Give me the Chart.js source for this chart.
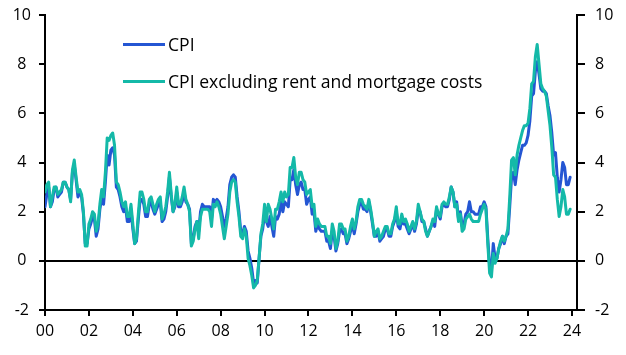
<!DOCTYPE html>
<html><head><meta charset="utf-8">
<script src="https://cdn.jsdelivr.net/npm/chart.js@4.4.1/dist/chart.umd.min.js"></script>
<style>
html,body{margin:0;padding:0;background:#fff;}
#wrap{position:relative;width:626px;height:355px;overflow:hidden;}
canvas{display:block;}
.leg{position:absolute;left:123px;height:20px;display:flex;align-items:center;font-family:'Open Sans',sans-serif;font-size:17.6px;color:#000;white-space:nowrap;}
.leg i{display:inline-block;width:42px;height:3px;margin-right:3px;}
</style></head><body>
<div id="wrap"><canvas id="c" width="626" height="355"></canvas>
<div class="leg" id="l1" style="top:34px"><i></i><span></span></div>
<div class="leg" id="l2" style="top:71px"><i></i><span></span></div>
</div>
<script>
const startYear = 2000;
const seriesNames = ['CPI', 'CPI excluding rent and mortgage costs'];
const xTickValues = [0,2,4,6,8,10,12,14,16,18,20,22,24];
const xTickLabels = ['00','02','04','06','08','10','12','14','16','18','20','22','24'];
const yTicks = [-2,0,2,4,6,8,10];

// Monthly y/y %, Jan 2000 - Dec 2023
const cpi = [
2.2,2.7,3.0,2.2,2.4,2.9,3.0,2.6,2.7,2.8,3.2,3.2,
3.0,2.9,2.5,3.6,3.9,3.3,2.6,2.8,2.6,1.9,0.7,0.7,
1.3,1.5,1.8,1.7,1.0,1.3,2.1,2.6,2.3,3.2,4.3,3.9,
4.5,4.6,4.3,3.0,2.9,2.6,2.2,2.0,2.2,1.6,1.6,2.1,
1.3,0.7,0.8,1.7,2.5,2.5,2.3,1.8,1.8,2.3,2.4,2.1,
1.9,2.1,2.3,2.4,1.6,1.7,2.0,2.6,3.4,2.6,2.0,2.2,
2.8,2.2,2.2,2.4,2.8,2.4,2.3,2.1,0.7,0.9,1.4,1.6,
1.2,2.0,2.3,2.2,2.2,2.2,2.2,1.7,2.5,2.4,2.5,2.4,
2.2,1.8,1.4,1.7,2.2,3.1,3.4,3.5,3.4,2.6,2.0,1.2,
1.1,1.4,1.2,0.4,0.1,-0.3,-0.9,-0.8,-0.9,0.1,1.0,1.3,
1.9,1.6,1.4,1.8,1.4,1.0,1.8,1.7,1.9,2.4,2.0,2.4,
2.3,2.2,3.3,3.3,3.7,3.1,2.7,3.1,3.2,2.9,2.9,2.3,
2.5,2.6,1.9,2.0,1.2,1.5,1.3,1.2,1.2,1.2,0.8,0.8,
0.5,1.2,1.0,0.4,0.7,1.2,1.3,1.1,1.1,0.7,0.9,1.2,
1.5,1.1,1.5,2.0,2.3,2.4,2.1,2.1,2.0,2.4,2.0,1.5,
1.0,1.0,1.2,0.8,0.9,1.0,1.3,1.3,1.0,1.0,1.4,1.6,
2.0,1.4,1.3,1.7,1.5,1.5,1.3,1.1,1.3,1.5,1.2,1.5,
2.1,2.0,1.6,1.6,1.3,1.0,1.2,1.4,1.6,1.4,2.1,1.9,
1.7,2.2,2.3,2.2,2.2,2.5,3.0,2.8,2.2,2.4,1.7,2.0,
1.4,1.5,1.9,2.0,2.4,2.0,2.0,1.9,1.9,1.9,2.2,2.2,
2.4,2.2,0.9,-0.2,-0.4,0.7,0.1,0.1,0.5,0.7,1.0,0.7,
1.0,1.1,2.2,3.4,3.6,3.1,3.7,4.1,4.4,4.7,4.7,4.8,
5.1,5.7,6.7,6.8,7.7,8.1,7.6,7.0,6.9,6.9,6.8,6.3,
5.9,5.2,4.3,4.4,3.4,2.8,3.3,4.0,3.8,3.1,3.1,3.4
];
const cpiExRent = [
2.8,3.1,3.2,2.2,2.6,3.0,3.0,2.7,2.8,2.9,3.2,3.2,
3.0,2.9,2.4,3.7,4.1,3.4,2.8,2.9,2.7,2.0,0.6,0.6,
1.5,1.7,2.0,1.9,1.2,1.5,2.3,2.9,2.6,3.6,5.0,4.9,
5.1,5.2,4.7,3.2,3.1,2.8,2.4,2.2,2.4,1.8,1.8,2.3,
1.5,0.7,0.9,1.9,2.8,2.8,2.5,2.0,2.0,2.5,2.6,2.3,
2.0,2.3,2.5,2.6,1.7,1.9,2.2,2.8,3.6,2.7,2.0,2.3,
3.0,2.3,2.3,2.6,3.0,2.5,2.3,2.0,0.6,0.8,1.3,1.6,
0.9,1.8,2.1,2.1,2.1,2.1,2.0,1.4,2.3,2.2,2.4,2.2,
1.9,1.4,0.9,1.4,1.9,2.8,3.2,3.3,3.2,2.4,1.8,1.0,
0.9,1.3,1.0,0.1,-0.2,-0.6,-1.1,-1.0,-0.8,0.1,1.1,1.5,
2.3,1.6,2.3,2.1,1.7,1.3,2.1,2.1,2.4,2.8,2.4,2.8,
2.6,2.7,3.8,3.8,4.2,3.4,3.1,3.6,3.6,3.3,3.2,2.7,
2.8,2.9,2.2,2.3,1.4,1.7,1.5,1.4,1.4,1.4,1.0,1.0,
0.7,1.5,1.2,0.5,0.8,1.5,1.5,1.3,1.3,0.8,1.0,1.4,
1.7,1.3,1.6,2.2,2.5,2.5,2.3,2.2,2.1,2.5,2.1,1.6,
1.0,1.2,1.3,0.9,1.0,1.2,1.4,1.4,1.1,1.1,1.5,1.7,
2.2,1.5,1.5,1.9,1.6,1.7,1.5,1.2,1.4,1.6,1.3,1.6,
2.3,2.0,1.7,1.6,1.2,1.0,1.2,1.4,1.7,1.6,2.2,1.9,
1.8,2.3,2.4,2.3,2.3,2.6,3.0,2.8,2.2,2.3,1.6,1.9,
1.2,1.3,1.7,1.8,1.9,1.7,1.6,1.6,1.6,1.6,1.9,2.1,
2.3,2.1,0.7,-0.5,-0.65,0.3,-0.1,0.1,0.5,0.8,1.0,0.8,
1.0,1.3,2.6,4.1,4.2,3.5,4.3,4.7,5.0,5.3,5.5,5.5,
5.6,6.2,7.2,7.3,8.3,8.8,8.0,7.2,7.0,6.9,6.7,6.1,
5.5,4.6,3.5,3.4,2.5,1.8,2.2,2.9,2.6,1.9,1.9,2.1
];

const colors = ['#2456d3', '#14b9a8'];
const FONT = "'Open Sans', sans-serif";

const toPts = arr => arr.map((v, i) => ({x: i / 12, y: v}));

// legend (HTML text)
[['l1',0],['l2',1]].forEach(([id, k]) => {
  const el = document.getElementById(id);
  el.querySelector('i').style.background = colors[k];
  el.querySelector('span').textContent = seriesNames[k];
});

const yAxisCommon = {
  type: 'linear', min: -2, max: 10,
  afterBuildTicks: s => { s.ticks = yTicks.map(v => ({value: v})); },
  border: {display: true, color: '#000', width: 2},
  ticks: {color: '#000', font: {family: FONT, size: 16}, padding: 8, crossAlign: 'center'}
};

new Chart(document.getElementById('c'), {
  type: 'line',
  data: {
    datasets: [
      {label: seriesNames[0], data: toPts(cpi), borderColor: colors[0], borderWidth: 3, order: 1},
      {label: seriesNames[1], data: toPts(cpiExRent), borderColor: colors[1], borderWidth: 3, order: 0}
    ]
  },
  options: {
    responsive: false, animation: false, devicePixelRatio: 1,
    layout: {padding: {top: 15, left: 0, right: 0, bottom: 0}},
    elements: {point: {radius: 0}, line: {tension: 0, borderJoinStyle: 'round', borderCapStyle: 'round'}},
    plugins: {legend: {display: false}, tooltip: {enabled: false}},
    scales: {
      x: {
        type: 'linear', min: 0, max: 24.23,
        afterBuildTicks: s => { s.ticks = xTickValues.map(v => ({value: v})); },
        afterFit: s => { s.height = 45; s.paddingLeft = 0; s.paddingRight = 0; },
        border: {display: true, color: '#000', width: 2},
        grid: {drawOnChartArea: false, drawTicks: true, tickLength: 6, color: '#000', lineWidth: 2},
        ticks: {color: '#000', font: {family: FONT, size: 16}, padding: 6, autoSkip: false, maxRotation: 0,
          callback: (v) => { const i = xTickValues.indexOf(v); return i >= 0 ? xTickLabels[i] : ''; }}
      },
      y: Object.assign({}, yAxisCommon, {
        position: 'left',
        afterFit: s => { s.width = 45; s.paddingTop = 0; s.paddingBottom = 0; },
        grid: {drawOnChartArea: true, drawTicks: true, tickLength: 6, color: '#000',
          lineWidth: ctx => (ctx.tick && ctx.tick.value === 0) ? 2 : 0, tickWidth: 2, tickColor: '#000'}
      }),
      y2: Object.assign({}, yAxisCommon, {
        position: 'right',
        afterFit: s => { s.width = 49; s.paddingTop = 0; s.paddingBottom = 0; },
        ticks: {color: '#000', font: {family: FONT, size: 16}, padding: 10, crossAlign: 'near'},
        grid: {drawOnChartArea: false, drawTicks: true, tickLength: 8, color: '#000', lineWidth: 2, tickWidth: 2, tickColor: '#000'}
      })
    }
  }
});
</script>
</body></html>
